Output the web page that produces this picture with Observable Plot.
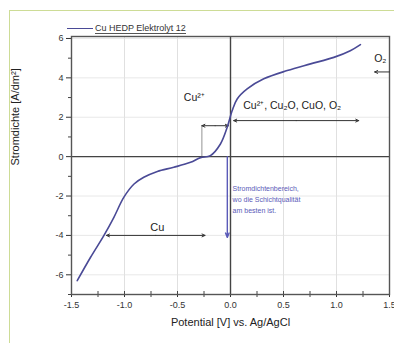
<!DOCTYPE html>
<html>
<head>
<meta charset="utf-8">
<script src="https://cdn.jsdelivr.net/npm/d3@7"></script>
<script src="https://cdn.jsdelivr.net/npm/@observablehq/plot@0.6"></script>
<style>
  html, body { margin: 0; padding: 0; background: #fff; }
  #wrap { position: relative; width: 394px; height: 343px; overflow: hidden; font-family: "Liberation Sans", Arial, sans-serif; }
  #frame { position: absolute; left: 9px; top: 10px; right: -5px; bottom: -5px; border-top: 1.5px solid #cddc96; border-left: 1.5px solid #cddc96; pointer-events: none; }
  #legend { position: absolute; left: 67px; top: 23px; font-size: 9px; color: #333; display: flex; align-items: center; white-space: nowrap; }
  #legend .sw { display: inline-block; width: 26px; height: 1.6px; background: #4a4a96; margin-right: 2px; }
  #legend .tx { border-bottom: 1px solid #555; line-height: 10px; }
</style>
</head>
<body>
<div id="wrap">
  <div id="chart"></div>
  <div id="frame"></div>
  <div id="legend"><span class="sw"></span><span class="tx">Cu HEDP Elektrolyt 12</span></div>
</div>
<script>
// Curve: potential [V] vs. Ag/AgCl and current density [A/dm²]
const potential = [-1.446, -1.32, -1.195, -1.10, -1.007, -0.91, -0.818, -0.69, -0.535, -0.377, -0.283, -0.19, -0.095, -0.031, 0.016, 0.063, 0.157, 0.314, 0.535, 0.755, 0.975, 1.13, 1.226];
const density   = [-6.30, -5.11, -4.01, -3.08, -2.07, -1.39, -1.05, -0.75, -0.54, -0.29, -0.05, 0.05, 0.64, 1.49, 2.34, 2.93, 3.44, 3.95, 4.37, 4.71, 5.04, 5.38, 5.69];

const xTicks = [-1.5, -1.0, -0.5, 0.0, 0.5, 1.0, 1.5];
const xMinor = [-1.25, -0.75, -0.25, 0.25, 0.75, 1.25];
const yTicks = [-6, -4, -2, 0, 2, 4, 6];
const yMinor = [-7, -5, -3, -1, 1, 3, 5];

// Annotations (data units)
const startLabels = ["Cu²⁺", "Cu²⁺, Cu₂O, CuO, O₂", "O₂"];
const startX      = [-0.44, 0.12, 1.355];
const startY      = [3.0, 2.6, 5.0];
const cuLabel = "Cu";
const cuX = -0.69;
const cuY = -3.6;

const noteLines = ["Stromdichtenbereich,", "wo die Schichtqualität", "am besten ist."];
const noteX = 0.02;
const noteY = [-1.63, -2.19, -2.75];

// double-headed ranges: [x1, x2, y]
const rangeX1 = [-0.27, 0.03, -1.17];
const rangeX2 = [-0.02, 1.21, -0.24];
const rangeY  = [1.57, 1.83, -4.0];

const curve = potential.map((p, i) => ({x: p, y: density[i]}));
const labels = startLabels.map((t, i) => ({t, x: startX[i], y: startY[i]}));
const ranges = rangeX1.map((x1, i) => ({x1, x2: rangeX2[i], y: rangeY[i], m: (x1 + rangeX2[i]) / 2}));
const notes = noteLines.map((t, i) => ({t, x: noteX, y: noteY[i]}));

const purple = "#5a5ab8";
const ink = "#333";

const plot = Plot.plot({
  width: 394,
  height: 343,
  marginLeft: 71,
  marginRight: 5,
  marginTop: 36,
  marginBottom: 49,
  style: {fontFamily: "'Liberation Sans', Arial, sans-serif", fontSize: "9px", color: ink, background: "transparent"},
  x: {domain: [-1.5, 1.5], ticks: xTicks, tickFormat: d => d.toFixed(1), tickSize: 3, tickPadding: 4, label: null},
  y: {domain: [-7, 6.1], ticks: yTicks, tickFormat: d => String(d), tickSize: 5, tickPadding: 3, label: null},
  marks: [
    Plot.gridX(xTicks, {stroke: "#d8d8d8", strokeOpacity: 1, strokeWidth: 0.8}),
    Plot.gridY(yTicks, {stroke: "#e2e2e2", strokeOpacity: 1, strokeWidth: 0.8}),
    // minor ticks
    Plot.ruleX(xMinor, {x: d => d, y1: -7, y2: -7, insetTop: -3, insetBottom: -3, stroke: "#444", strokeWidth: 1}),
    Plot.ruleX(xTicks, {x: d => d, y1: -7, y2: -7, insetTop: -3, insetBottom: 0, stroke: "#444", strokeWidth: 1}),
    Plot.ruleY(yMinor, {y: d => d, x1: -1.5, x2: -1.5, insetLeft: -3, insetRight: 0, stroke: "#444", strokeWidth: 1}),
    // zero lines
    Plot.ruleX([0], {stroke: "#444", strokeWidth: 1.4}),
    Plot.ruleY([0], {stroke: "#444", strokeWidth: 1.4}),
    Plot.frame({stroke: "#555", strokeWidth: 1.4}),
    // bracket for Cu2+
    Plot.ruleX([rangeX1[0]], {x: d => d, y1: 0, y2: rangeY[0], stroke: "#777", strokeWidth: 0.8}),
    // double-headed arrows
    Plot.arrow(ranges, {x1: "m", x2: "x1", y1: "y", y2: "y", stroke: "#333", strokeWidth: 1, headLength: 5, headAngle: 50}),
    Plot.arrow(ranges, {x1: "m", x2: "x2", y1: "y", y2: "y", stroke: "#333", strokeWidth: 1, headLength: 5, headAngle: 50}),
    // O2 arrow
    Plot.arrow([{x1: 1.5, x2: 1.36, y: 4.3}], {x1: "x1", x2: "x2", y1: "y", y2: "y", stroke: "#333", strokeWidth: 1, headLength: 5, headAngle: 50}),
    // purple vertical arrow
    Plot.arrow([{x: -0.03, y1: 0, y2: -4.1}], {x1: "x", x2: "x", y1: "y1", y2: "y2", stroke: purple, strokeWidth: 1.4, headLength: 5, headAngle: 45}),
    // curve
    Plot.line(curve, {x: "x", y: "y", curve: "catmull-rom", stroke: "#4a4a96", strokeWidth: 1.6}),
    // labels
    Plot.text(labels, {x: "x", y: "y", text: "t", textAnchor: "start", fontSize: 10.5, fill: "#222"}),
    Plot.text([cuLabel], {x: () => cuX, y: () => cuY, text: d => d, textAnchor: "middle", fontSize: 11, fill: "#222"}),
    Plot.text(notes, {x: "x", y: "y", text: "t", textAnchor: "start", fontSize: 7, fill: purple}),
    // axis titles
    Plot.text(["Potential [V] vs. Ag/AgCl"], {frameAnchor: "bottom", dy: 31, fontSize: 11, fill: "#222"}),
    Plot.text(["Stromdichte [A/dm²]"], {frameAnchor: "left", dx: -56, rotate: -90, fontSize: 11, fill: "#222"})
  ]
});
document.getElementById("chart").appendChild(plot);
</script>
</body>
</html>
